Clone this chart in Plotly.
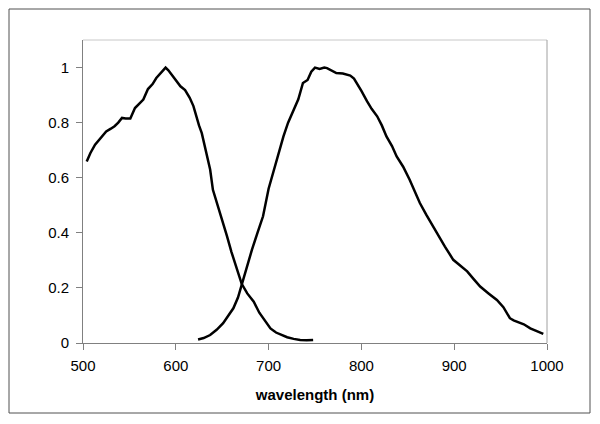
import plotly.graph_objects as go

# Curve 1 (left emission-like band)
wl_a = [504, 508, 513, 518, 525, 530, 534, 538, 542, 546, 551, 556, 560, 565, 570, 575, 579, 584, 589, 592,
        597, 601, 605, 610, 615, 619, 622, 625, 628, 631, 634, 637, 640, 645, 650, 655, 660, 665, 671,
        677, 684, 690, 696, 702, 708, 714, 720, 727, 734, 741, 748]
val_a = [0.659, 0.690, 0.720, 0.740, 0.768, 0.778, 0.787, 0.800, 0.817, 0.815, 0.815, 0.853, 0.868, 0.884, 0.922,
         0.940, 0.962, 0.980, 1.000, 0.990, 0.968, 0.950, 0.932, 0.918, 0.890, 0.860, 0.823, 0.790, 0.762, 0.720,
         0.677, 0.630, 0.556, 0.500, 0.453, 0.390, 0.330, 0.275, 0.215, 0.180, 0.150, 0.110, 0.080, 0.053, 0.038,
         0.028, 0.021, 0.015, 0.011, 0.010, 0.011]

# Curve 2 (right band)
wl_b = [624, 630, 637, 644, 651, 657, 662, 667, 671, 676, 682, 688, 694, 700, 705, 711, 716, 721, 727, 732,
        737, 742, 746, 750, 755, 760, 763, 768, 773, 780, 788, 792, 795, 800, 806, 811, 817, 822, 827, 833,
        838, 845, 852, 858, 863, 870, 875, 881, 890, 899, 906, 914, 921, 928, 937, 946, 953, 960, 964, 967,
        975, 982, 989, 996]
val_b = [0.013, 0.018, 0.029, 0.048, 0.072, 0.100, 0.126, 0.165, 0.212, 0.265, 0.338, 0.400, 0.460, 0.560,
         0.620, 0.690, 0.750, 0.800, 0.847, 0.885, 0.944, 0.955, 0.985, 1.000, 0.995, 1.000, 0.998, 0.990,
         0.980, 0.978, 0.971, 0.960, 0.944, 0.915, 0.878, 0.850, 0.823, 0.790, 0.750, 0.715, 0.677, 0.640,
         0.593, 0.550, 0.508, 0.465, 0.435, 0.399, 0.350, 0.302, 0.282, 0.260, 0.232, 0.205, 0.180, 0.156,
         0.130, 0.090, 0.082, 0.078, 0.068, 0.053, 0.042, 0.033]

x_ticks = [500, 600, 700, 800, 900, 1000]
y_ticks = [0, 0.2, 0.4, 0.6, 0.8, 1]
y_tick_text = ["0", "0.2", "0.4", "0.6", "0.8", "1"]

fig = go.Figure()
for xs, ys in [(wl_a, val_a), (wl_b, val_b)]:
    fig.add_trace(go.Scatter(x=xs, y=ys, mode="lines",
                             line=dict(color="black", width=2.5), showlegend=False,
                             hoverinfo="skip"))

L, R, T, B = 83, 53, 40, 81
W, H = 600, 424
pw, ph = W - L - R, H - T - B

fig.update_layout(
    width=W, height=H,
    margin=dict(l=L, r=R, t=T, b=B),
    paper_bgcolor="white", plot_bgcolor="white",
    font=dict(family="Liberation Sans, Arial, sans-serif", size=15, color="black"),
    xaxis=dict(range=[500, 1000], tickvals=x_ticks, ticks="outside", ticklen=6,
               tickcolor="#808080", showline=True, linecolor="#808080", linewidth=1,
               showgrid=False, zeroline=False, tickfont=dict(size=15), ticklabelstandoff=3,
               title=dict(text="<b>wavelength (nm)</b>", font=dict(size=15), standoff=16)),
    yaxis=dict(range=[0, 1.10], tickvals=y_ticks, ticktext=y_tick_text, ticks="outside",
               ticklen=6, tickcolor="#808080", showline=True, linecolor="#808080", linewidth=1,
               showgrid=False, zeroline=False, tickfont=dict(size=15), ticklabelstandoff=4),
    shapes=[
        # top and right plot-area border
        dict(type="line", xref="paper", yref="paper", x0=0, x1=1, y0=1, y1=1,
             line=dict(color="#c8c8c8", width=1)),
        dict(type="line", xref="paper", yref="paper", x0=1, x1=1, y0=0, y1=1,
             line=dict(color="#a0a0a0", width=1)),
        # outer chart border
        dict(type="rect", xref="paper", yref="paper",
             x0=(9 - L) / pw, x1=(590 - L) / pw,
             y0=(H - B - 413) / ph, y1=(H - B - 9) / ph,
             line=dict(color="#505050", width=1), layer="below"),
    ],
)

fig.write_html("out.html", config={"displayModeBar": False},
               post_script="document.body.style.margin='0px';")
